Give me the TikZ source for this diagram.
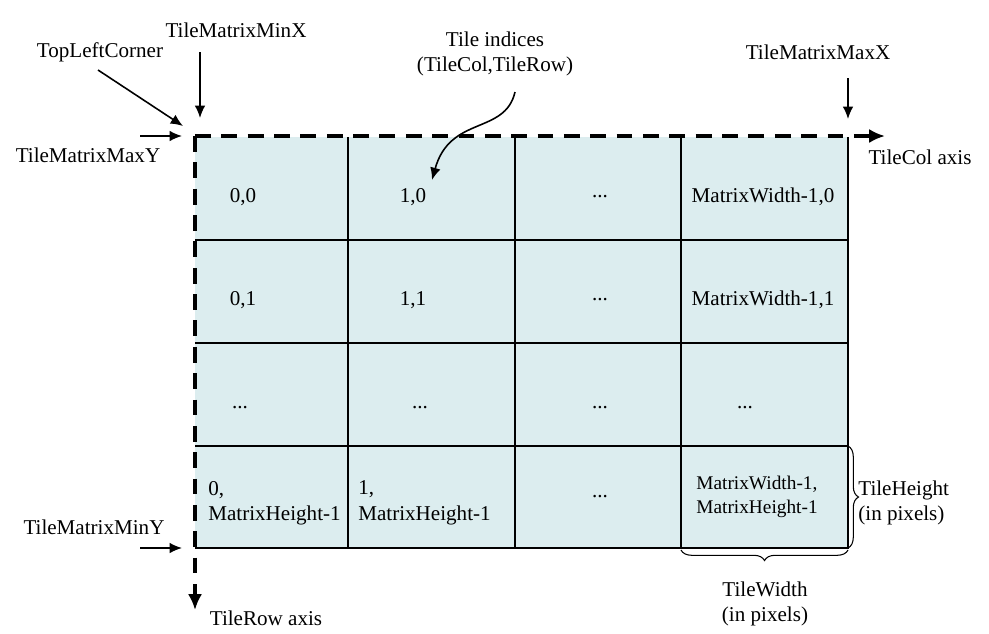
\documentclass[tikz,border=0pt]{standalone}
\usepackage{fontspec}
\setmainfont{Liberation Serif}
\usetikzlibrary{arrows.meta,decorations.pathreplacing}
\definecolor{cellfill}{HTML}{DCEDEF}
\newcommand{\dd}{...}
\begin{document}
\begin{tikzpicture}[x=0.02cm,y=-0.02cm,
  lbl/.style={font=\fontsize{12}{14.5}\selectfont,inner sep=0pt},
  cell/.style={font=\fontsize{12}{14.5}\selectfont,inner sep=0pt,align=left},
  ptr/.style={-{Latex[length=7pt,width=6pt]},line width=0.9pt},
  axis/.style={line width=2.2pt,dash pattern=on 9pt off 6pt,-{Latex[length=9pt,width=8pt]}},
  brc/.style={decorate,decoration={brace,amplitude=6pt},line width=0.6pt}]
\useasboundingbox (0,0) rectangle (989,633);
\fill[cellfill] (195,137) rectangle (848,548);
\foreach \x in {348,515,681} \draw[line width=0.6pt] (\x,137) -- (\x,548);
\foreach \y in {240,343,446} \draw[line width=0.6pt] (195,\y) -- (848,\y);
\draw[line width=0.6pt] (848,137) -- (848,548) -- (195,548);
\coordinate (o) at (195,136);
\coordinate (ex) at (885,136);
\coordinate (ey) at (195,610);
\draw[axis] (o) -- (ex);
\draw[axis] (o) -- (ey);
% labels
\node[lbl] (minx) at (236,30) {TileMatrixMinX};
\node[lbl] (tlc) at (100,52) {TopLeftCorner};
\node[lbl] (maxy) at (88,155) {TileMatrixMaxY};
\node[lbl] (miny) at (94,527) {TileMatrixMinY};
\node[lbl,align=center] (ti) at (495,54) {Tile indices\\(TileCol,TileRow)};
\node[lbl] (maxx) at (818,52) {TileMatrixMaxX};
\node[lbl] (colax) at (920,157) {TileCol axis};
\node[lbl] (rowax) at (266,618) {TileRow axis};
\node[lbl,align=left,anchor=west] (th) at (858,503) {TileHeight\\(in pixels)};
\node[lbl,align=center] (tw) at (765,604) {TileWidth\\(in pixels)};
\coordinate (a1) at (200,52); \coordinate (a1e) at (200,118);
\draw[ptr] (a1) -- (a1e);
\coordinate (a2) at (98,70); \coordinate (a2e) at (183,126);
\draw[ptr] (a2) -- (a2e);
\coordinate (a3) at (140,136); \coordinate (a3e) at (182,136);
\draw[ptr] (a3) -- (a3e);
\coordinate (a4) at (140,548); \coordinate (a4e) at (182,548);
\draw[ptr] (a4) -- (a4e);
\coordinate (a5) at (848,78); \coordinate (a5e) at (848,119);
\draw[ptr] (a5) -- (a5e);
\coordinate (c0) at (515,92); \coordinate (c1) at (432,180);
\draw[ptr] (c0) .. controls (505,135) and (450,115) .. (c1);
% cells
\foreach \t/\x/\y in {0{,}0/243/197,1{,}0/413/197,\dd/600/197,MatrixWidth-1{,}0/763/197,
  0{,}1/243/300,1{,}1/413/300,\dd/600/300,MatrixWidth-1{,}1/763/300,
  \dd/240/408,\dd/420/408,\dd/600/408,\dd/745/408,\dd/600/497}
  \node[cell] at (\x,\y) {\t};
\node[cell,anchor=west] (r40) at (208,503) {0,\\MatrixHeight-1};
\node[cell,anchor=west] (r41) at (358,503) {1,\\MatrixHeight-1};
\node[cell,align=left,font=\fontsize{11}{14}\selectfont] (r43) at (757,497) {MatrixWidth-1,\\MatrixHeight-1};
\draw[brc] (848,446) -- (848,548);
\draw[brc] (848,550) -- (681,550);
\end{tikzpicture}
\end{document}
